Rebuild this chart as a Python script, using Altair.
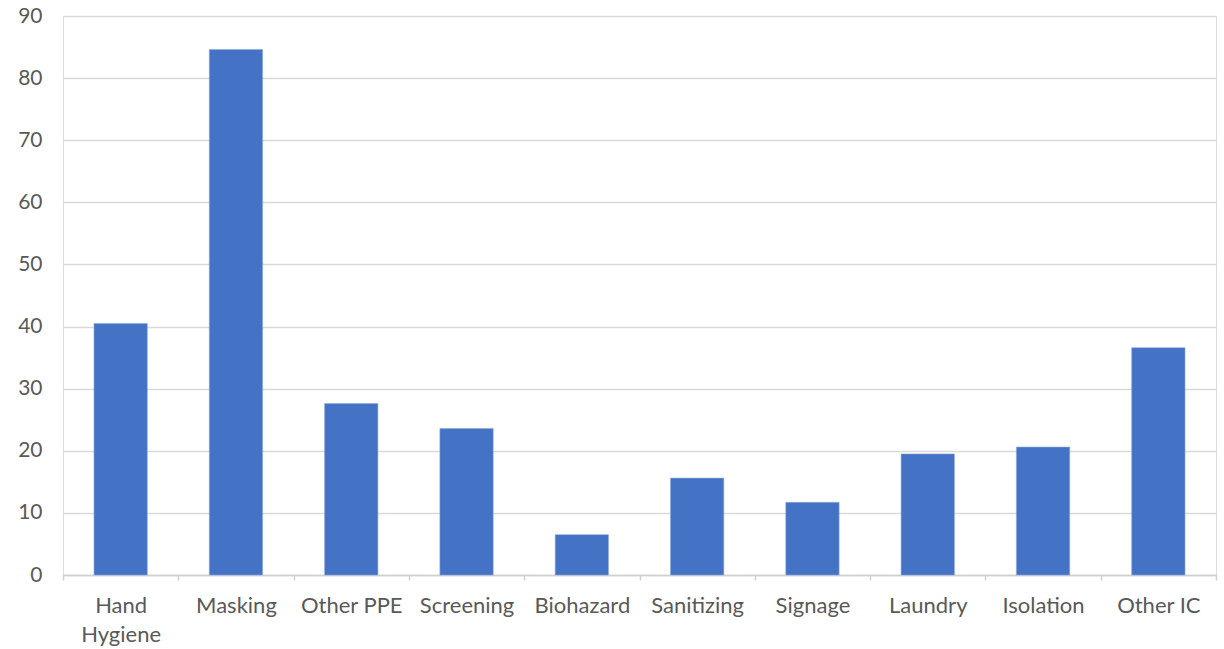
import altair as alt
import pandas as pd

categories = ["Hand Hygiene", "Masking", "Other PPE", "Screening", "Biohazard",
              "Sanitizing", "Signage", "Laundry", "Isolation", "Other IC"]
values = [40.5, 84.6, 27.6, 23.6, 6.5, 15.6, 11.7, 19.5, 20.6, 36.6]

df = pd.DataFrame({"category": categories, "value": values})

FONT = "Lato"
GREY = "#595959"

chart = alt.Chart(df).mark_bar(
    color="#4472C4", stroke="#8fa9dc", strokeWidth=0.6,
    width=alt.RelativeBandSize(0.4625),
).encode(
    x=alt.X("category:N", sort=categories,
            scale=alt.Scale(paddingInner=0, paddingOuter=0),
            axis=alt.Axis(title=None, labelAngle=0, labelFont=FONT, labelFontSize=22,
                          labelColor=GREY, labelPadding=15, labelLineHeight=29,
                          labelBaseline="top",
                          labelExpr="datum.label == 'Hand Hygiene' ? ['Hand', 'Hygiene'] : datum.label",
                          tickBand="extent", ticks=True, tickSize=5, tickColor="#d0d0d0",
                          tickWidth=1.5, domainColor="#d0d0d0", domainWidth=1.5, grid=False)),
    y=alt.Y("value:Q", scale=alt.Scale(domain=[0, 90], nice=False),
            axis=alt.Axis(title=None, values=list(range(0, 91, 10)), labelFont=FONT,
                          labelFontSize=21, labelColor=GREY, labelPadding=21, ticks=False,
                          domain=False, grid=True, gridColor="#d9d9d9", gridWidth=1.5)),
).properties(
    width=1153, height=559,
    autosize=alt.AutoSizeParams(type="none"),
    padding={"left": 63, "top": 16, "right": 8, "bottom": 74},
).configure_view(strokeWidth=0).configure(background="white")

chart.save("out.html", embed_options={"renderer": "svg", "actions": False})
